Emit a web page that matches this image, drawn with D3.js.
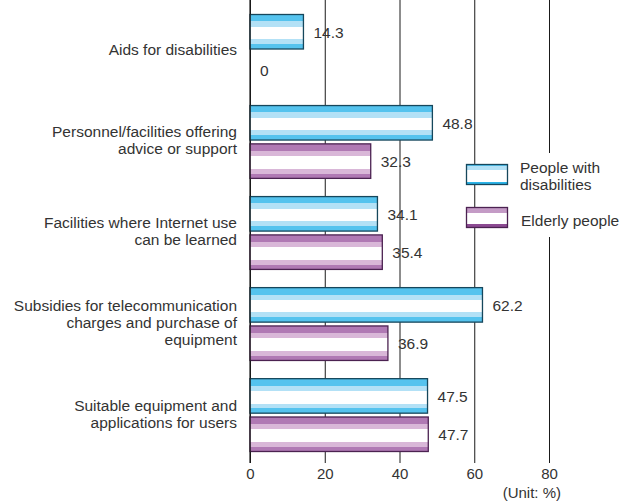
<!DOCTYPE html>
<html>
<head>
<meta charset="utf-8">
<script src="https://cdn.jsdelivr.net/npm/d3@7"></script>
<style>
  body { margin: 0; background: #fff; }
  svg { display: block; font-family: "Liberation Sans", Arial, sans-serif; }
</style>
</head>
<body>
<svg id="chart" width="632" height="502"></svg>
<script>
// Survey items (one label line per array entry)
const categories = [
  ["Aids for disabilities"],
  ["Personnel/facilities offering", "advice or support"],
  ["Facilities where Internet use", "can be learned"],
  ["Subsidies for telecommunication", "charges and purchase of", "equipment"],
  ["Suitable equipment and", "applications for users"]
];
const seriesNames = ["People with disabilities", "Elderly people"];
const disabledValues = [14.3, 48.8, 34.1, 62.2, 47.5];
const elderlyValues = [0, 32.3, 35.4, 36.9, 47.7];
const xTicks = [0, 20, 40, 60, 80];

const FONT = 15.5;
const svg = d3.select("#chart");
const defs = svg.append("defs");

const palette = {
  "People with disabilities": { dark: "#55c3ee", light: "#b3e1f6", stroke: "#16475c" },
  "Elderly people": { dark: "#b079b4", light: "#d9b7d8", stroke: "#4b2251" }
};

// Striped fills: dark band, light band, white core, light band, dark band
seriesNames.forEach((name, i) => {
  const c = palette[name];
  const stops = [
    [0, c.dark], [0.2, c.dark], [0.2, c.light], [0.36, c.light],
    [0.36, "#fff"], [0.72, "#fff"], [0.72, c.light], [0.86, c.light],
    [0.86, c.dark], [1, c.dark]
  ];
  const g = defs.append("linearGradient").attr("id", "bar" + i)
    .attr("x1", 0).attr("y1", 0).attr("x2", 0).attr("y2", 1);
  stops.forEach(s => g.append("stop").attr("offset", s[0]).attr("stop-color", s[1]));
});
// Legend swatch fills
[
  [[0, "#55c3ee"], [0.08, "#55c3ee"], [0.08, "#b3e1f6"], [0.28, "#b3e1f6"], [0.28, "#fff"], [0.85, "#fff"], [0.85, "#2cb4e8"], [1, "#2cb4e8"]],
  [[0, "#c49bc6"], [0.3, "#c49bc6"], [0.3, "#fff"], [0.82, "#fff"], [0.82, "#8c4a92"], [1, "#8c4a92"]]
].forEach((stops, i) => {
  const g = defs.append("linearGradient").attr("id", "leg" + i)
    .attr("x1", 0).attr("y1", 0).attr("x2", 0).attr("y2", 1);
  stops.forEach(s => g.append("stop").attr("offset", s[0]).attr("stop-color", s[1]));
});

const x = d3.scaleLinear().domain([0, 80]).range([250, 549]);
const y = d3.scaleBand().domain(d3.range(categories.length)).range([14, 451])
  .paddingInner(0.2).paddingOuter(0);
const ySub = d3.scaleBand().domain(seriesNames).range([0, y.bandwidth()]).paddingInner(0.1);

const axisY = 463;

// Gridlines and tick labels
const axis = d3.axisBottom(x).tickValues(xTicks).tickSize(-axisY).tickPadding(5);
const ax = svg.append("g").attr("transform", `translate(0,${axisY})`).call(axis);
ax.select(".domain").remove();
ax.selectAll(".tick line").attr("stroke", "#1a1a1a").attr("stroke-width", 1);
ax.selectAll(".tick text").attr("fill", "#333").attr("font-size", 15)
  .attr("font-family", "Liberation Sans, Arial, sans-serif");

svg.append("text").attr("x", 561).attr("y", 493).attr("dy", "0.35em").attr("text-anchor", "end")
  .attr("font-size", 15).attr("fill", "#333").text("(Unit: %)");

// Bars
const rows = [];
categories.forEach((c, i) => {
  rows.push({ i, series: seriesNames[0], s: 0, v: disabledValues[i] });
  rows.push({ i, series: seriesNames[1], s: 1, v: elderlyValues[i] });
});

svg.append("g").selectAll("rect").data(rows.filter(d => d.v > 0)).join("rect")
  .attr("x", x(0))
  .attr("y", d => y(d.i) + ySub(d.series) + 0.5)
  .attr("width", d => x(d.v) - x(0))
  .attr("height", ySub.bandwidth())
  .attr("fill", d => `url(#bar${d.s})`)
  .attr("stroke", d => palette[d.series].stroke)
  .attr("stroke-width", 1.3);

// Value labels
svg.append("g").selectAll("text").data(rows).join("text")
  .attr("x", d => x(d.v) + 10)
  .attr("y", d => y(d.i) + ySub(d.series) + ySub.bandwidth() / 2 + 1)
  .attr("dy", "0.35em")
  .attr("font-size", FONT).attr("fill", "#333")
  .text(d => d.v);

// Zero line on top
svg.append("line").attr("x1", x(0)).attr("x2", x(0)).attr("y1", 0).attr("y2", axisY)
  .attr("stroke", "#1a1a1a").attr("stroke-width", 1.2);

// Category labels
const lineH = 17;
const cat = svg.append("g").selectAll("text").data(categories).join("text")
  .attr("text-anchor", "end").attr("font-size", FONT).attr("fill", "#333");
cat.each(function(lines, i) {
  const cy = y(i) + y.bandwidth() / 2 - 1;
  const top = cy - (lines.length - 1) * lineH / 2;
  d3.select(this).selectAll("tspan").data(lines).join("tspan")
    .attr("x", 237).attr("y", (d, k) => top + k * lineH).attr("dy", "0.35em")
    .text(d => d);
});

// Legend
const leg = svg.append("g");
leg.append("rect").attr("x", 512).attr("y", 153).attr("width", 118).attr("height", 84).attr("fill", "#fff");
const legRows = [
  { s: 0, y: 164, lines: ["People with", "disabilities"] },
  { s: 1, y: 207, lines: ["Elderly people"] }
];
legRows.forEach(r => {
  leg.append("rect").attr("x", 466.5).attr("y", r.y + 0.5).attr("width", 41).attr("height", 20)
    .attr("fill", `url(#leg${r.s})`).attr("stroke", palette[seriesNames[r.s]].stroke).attr("stroke-width", 1.3);
  const t = leg.append("text").attr("font-size", FONT).attr("fill", "#333");
  const top = r.y + 10 - (r.lines.length - 1) * 17 / 2 + (r.lines.length > 1 ? 2 : 4);
  r.lines.forEach((l, k) => t.append("tspan").attr("x", r.s === 0 ? 520 : 521)
    .attr("y", top + k * 17).attr("dy", "0.35em").text(l));
});
</script>
</body>
</html>
